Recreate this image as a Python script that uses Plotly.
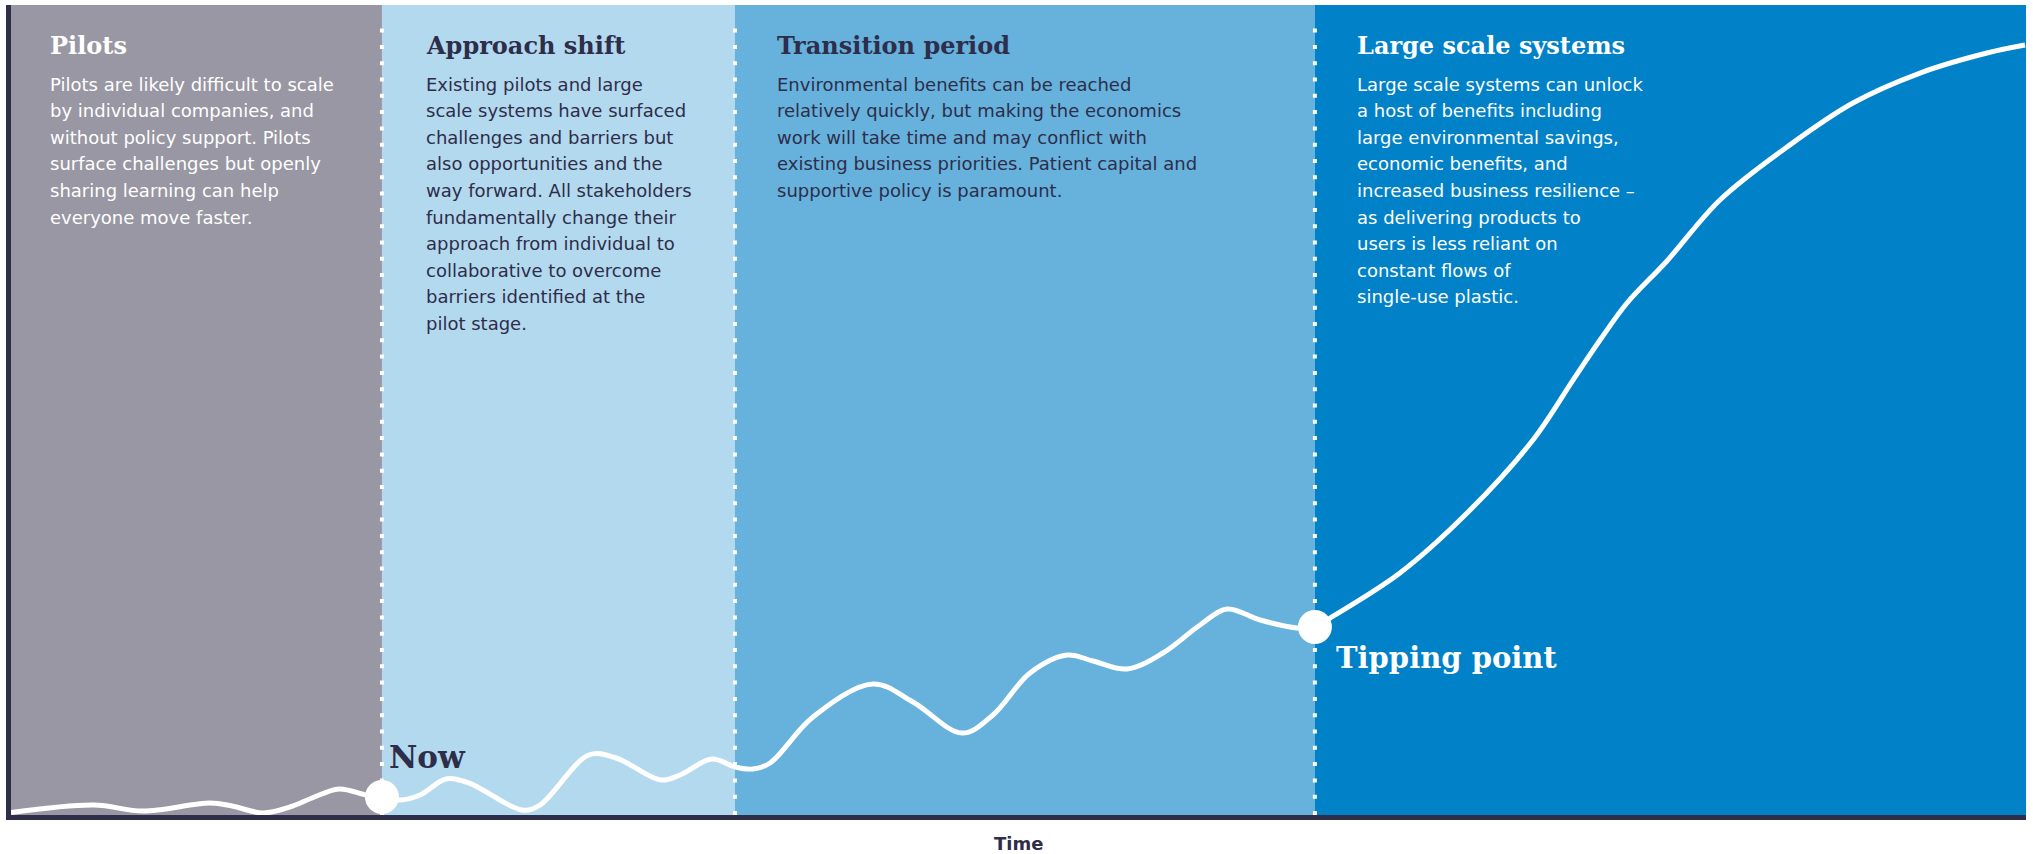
import numpy as np
import plotly.graph_objects as go

# ---- data ----
stage_names = ["Pilots", "Approach shift", "Transition period", "Large scale systems"]
stage_bounds = [0, 18.41, 35.93, 64.71, 100]
stage_colors = ["#9897a3", "#b3d9ee", "#66b2dc", "#0181c8"]
stage_text_colors = ["#ffffff", "#2e2d4a", "#2e2d4a", "#ffffff"]
stage_text = [
    ["Pilots are likely difficult to scale",
     "by individual companies, and",
     "without policy support. Pilots",
     "surface challenges but openly",
     "sharing learning can help",
     "everyone move faster."],
    ["Existing pilots and large",
     "scale systems have surfaced",
     "challenges and barriers but",
     "also opportunities and the",
     "way forward. All stakeholders",
     "fundamentally change their",
     "approach from individual to",
     "collaborative to overcome",
     "barriers identified at the",
     "pilot stage."],
    ["Environmental benefits can be reached",
     "relatively quickly, but making the economics",
     "work will take time and may conflict with",
     "existing business priorities. Patient capital and",
     "supportive policy is paramount."],
    ["Large scale systems can unlock",
     "a host of benefits including",
     "large environmental savings,",
     "economic benefits, and",
     "increased business resilience \u2013",
     "as delivering products to",
     "users is less reliant on",
     "constant flows of",
     "single-use plastic."],
]

time = [0, 4.12, 6.55, 9.88, 10.97, 12.51, 13.85, 14.94, 16.28, 17.62, 18.41,
        19.31, 20.30, 21.59, 22.73, 25.36, 26.25, 28.68, 30.02, 32.26, 33.20,
        34.79, 35.93, 36.82, 37.67, 39.80, 42.78, 44.76, 47.20, 48.73, 50.57,
        52.41, 53.70, 55.38, 57.17, 59.01, 60.35, 61.99, 63.82, 64.71, 65.46,
        68.93, 72.26, 75.53, 77.52, 78.86, 80.20, 82.18, 84.81, 88.14, 91.41,
        94.74, 98.06, 99.95]
level = [0.30, 1.23, 0.49, 1.48, 1.11, 0.25, 0.99, 2.10, 3.21, 2.47, 2.22,
         1.85, 2.47, 4.44, 3.95, 0.62, 1.23, 7.41, 7.04, 4.32, 4.94,
         6.91, 5.93, 5.68, 6.42, 12.10, 16.17, 13.95, 10.12, 12.35, 17.53,
         19.75, 19.01, 18.02, 20.00, 23.46, 25.43, 24.07, 23.09, 23.21, 24.32,
         29.88, 37.28, 46.30, 53.70, 58.64, 63.21, 68.40, 75.93, 82.47, 87.90,
         91.60, 94.07, 95.06]

milestone_labels = ["Now", "Tipping point"]
milestone_times = [18.41, 64.71]
milestone_colors = ["#2e2d4a", "#ffffff"]

x_title = "Time"

# ---- figure ----
W, H = 2033, 854
L, R, T, B = 11, 7, 5, 39
pw, ph = W - L - R, H - T - B


def px_to_paper_x(px):
    return (px - L) / pw


def px_to_paper_y(py):
    return (H - B - py) / ph


fig = go.Figure()

shapes = []
for i, name in enumerate(stage_names):
    shapes.append(dict(type="rect", xref="x", yref="paper",
                       x0=stage_bounds[i], x1=stage_bounds[i + 1], y0=0, y1=1,
                       fillcolor=stage_colors[i], line_width=0, layer="below"))
for b in stage_bounds[1:-1]:
    shapes.append(dict(type="line", xref="x", yref="paper", x0=b, x1=b,
                       y0=0, y1=px_to_paper_y(17),
                       line=dict(color="white", width=4, dash="4px,12.3px"),
                       layer="below"))

fig.add_trace(go.Scatter(x=time, y=level, mode="lines",
                         line=dict(color="white", width=5, shape="spline", smoothing=1.0),
                         hoverinfo="skip", showlegend=False))

m_vals = [float(np.interp(t, time, level)) for t in milestone_times]
fig.add_trace(go.Scatter(x=milestone_times, y=m_vals, mode="markers",
                         marker=dict(color="white", size=34, line_width=0),
                         hoverinfo="skip", showlegend=False, cliponaxis=False))

annotations = []
text_x_px = [48, 424, 775, 1355]
head_font = "DejaVu Serif"
body_font = "DejaVu Sans"
for i, name in enumerate(stage_names):
    annotations.append(dict(xref="paper", yref="paper",
                            x=px_to_paper_x(text_x_px[i]), y=px_to_paper_y(46),
                            text="<b>%s</b>" % name, showarrow=False,
                            xanchor="left", yanchor="middle",
                            font=dict(family=head_font, size=24, color=stage_text_colors[i])))
    for j, line in enumerate(stage_text[i]):
        annotations.append(dict(xref="paper", yref="paper",
                                x=px_to_paper_x(text_x_px[i]), y=px_to_paper_y(84 + 26.6 * j),
                                text=line, showarrow=False,
                                xanchor="left", yanchor="middle",
                                font=dict(family=body_font, size=18, color=stage_text_colors[i])))

# milestone labels
annotations.append(dict(xref="x", yref="paper", x=milestone_times[0], y=px_to_paper_y(757),
                        text="<b>%s</b>" % milestone_labels[0], showarrow=False,
                        xanchor="left", yanchor="middle", xshift=5,
                        font=dict(family=head_font, size=31, color=milestone_colors[0])))
annotations.append(dict(xref="x", yref="paper", x=milestone_times[1], y=px_to_paper_y(658),
                        text="<b>%s</b>" % milestone_labels[1], showarrow=False,
                        xanchor="left", yanchor="middle", xshift=19,
                        font=dict(family=head_font, size=29, color=milestone_colors[1])))
annotations.append(dict(xref="paper", yref="paper", x=px_to_paper_x(1018), y=px_to_paper_y(843),
                        text="<b>%s</b>" % x_title, showarrow=False,
                        xanchor="center", yanchor="middle",
                        font=dict(family="DejaVu Sans", size=18, color="#2e2d4a")))

fig.update_layout(
    width=W, height=H,
    margin=dict(l=L, r=R, t=T, b=B),
    paper_bgcolor="white", plot_bgcolor="white",
    shapes=shapes, annotations=annotations,
    xaxis=dict(range=[0, 100], showline=True, linewidth=5, linecolor="#2f2e48",
               showgrid=False, zeroline=False, showticklabels=False, ticks=""),
    yaxis=dict(range=[0, 100], showline=True, linewidth=5, linecolor="#2f2e48",
               showgrid=False, zeroline=False, showticklabels=False, ticks=""),
)

fig.write_html("out.html", config={"displayModeBar": False},
               post_script="document.body.style.margin='0';document.body.style.overflow='hidden';")
